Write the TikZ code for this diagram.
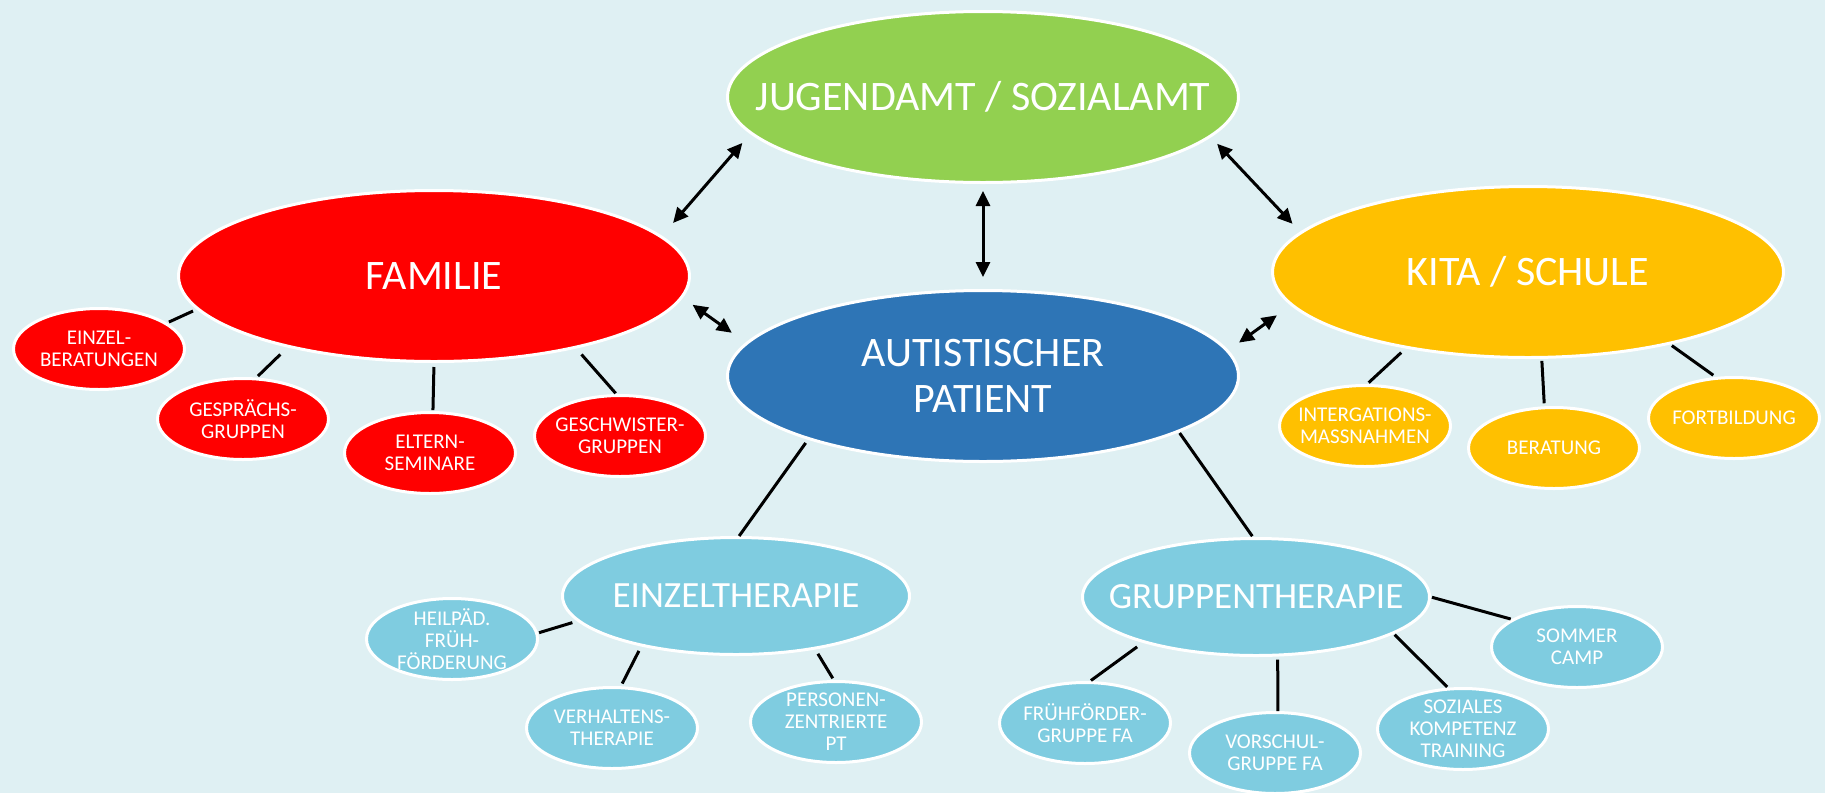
\documentclass[tikz,border=0pt]{standalone}
\usepackage{fontspec}
\setmainfont{Carlito}
\usetikzlibrary{shapes.geometric,arrows.meta}
\definecolor{bg}{HTML}{DFF0F3}
\definecolor{cgreen}{HTML}{92D050}
\definecolor{cred}{HTML}{FF0000}
\definecolor{corange}{HTML}{FFC000}
\definecolor{cblue}{HTML}{2E75B6}
\definecolor{clight}{HTML}{7FCCE0}
\begin{document}
\begin{tikzpicture}[x=1pt,y=-1pt,
  ell/.style={ellipse, draw=white, line width=3pt, inner sep=-120pt, text=white, align=center},
  bigE/.style={ell, minimum width=511pt, minimum height=171pt, font=\fontsize{42}{46}\selectfont},
  midE/.style={ell, fill=clight, minimum width=347pt, minimum height=117pt, font=\fontsize{37}{40}\selectfont},
  smallE/.style={ell, minimum width=171pt, minimum height=81pt, font=\fontsize{21}{22}\selectfont},
  link/.style={line width=3pt, draw=black},
  twoway/.style={line width=3pt, draw=black, {Triangle[length=15pt,width=14pt]}-{Triangle[length=15pt,width=14pt]}}
]
\fill[bg] (0,0) rectangle (1825,793);
\useasboundingbox (0,0) rectangle (1825,793);

% main nodes
\node[bigE, fill=cgreen]  (jug)  at (983,97)   {JUGENDAMT / SOZIALAMT};
\node[bigE, fill=cred]    (fam)  at (434,276)  {FAMILIE};
\node[bigE, fill=corange] (kita) at (1528,272) {KITA / SCHULE};
\node[bigE, fill=cblue]   (pat)  at (983,376)  {AUTISTISCHER\\PATIENT};
\node[midE] (einz) at (736,596)  {EINZELTHERAPIE};
\node[midE] (grup) at (1256,597) {GRUPPENTHERAPIE};

% family
\node[smallE, fill=cred] (r1) at (99,349)  {EINZEL-\\BERATUNGEN};
\node[smallE, fill=cred] (r2) at (243,419) {GESPRÄCHS-\\GRUPPEN};
\node[smallE, fill=cred] (r3) at (430,453) {ELTERN-\\SEMINARE};
\node[smallE, fill=cred] (r4) at (620,436) {GESCHWISTER-\\GRUPPEN};

% kita
\node[smallE, fill=corange] (o1) at (1365,426) {INTERGATIONS-\\MASSNAHMEN};
\node[smallE, fill=corange] (o2) at (1554,448) {BERATUNG};
\node[smallE, fill=corange] (o3) at (1734,418) {FORTBILDUNG};

% einzeltherapie
\node[smallE, fill=clight] (e1) at (452,639) {HEILPÄD.\\FRÜH-\\FÖRDERUNG};
\node[smallE, fill=clight] (e2) at (612,728) {VERHALTENS-\\THERAPIE};
\node[smallE, fill=clight] (e3) at (836,722) {PERSONEN-\\ZENTRIERTE\\PT};

% gruppentherapie
\node[smallE, fill=clight] (g1) at (1085,723) {FRÜHFÖRDER-\\GRUPPE FA};
\node[smallE, fill=clight] (g2) at (1275,753) {VORSCHUL-\\GRUPPE FA};
\node[smallE, fill=clight] (g3) at (1463,729) {SOZIALES\\KOMPETENZ\\TRAINING};
\node[smallE, fill=clight] (g4) at (1577,647) {SOMMER\\CAMP};

% plain links
\draw[link, shorten <=4pt, shorten >=2pt] (fam.188) -- (r1.21);
\draw[link, shorten <=10pt, shorten >=2pt] (fam.206) -- (r2.72);
\draw[link, shorten <=4pt, shorten >=1pt] (fam.270) -- (r3.86);
\draw[link, shorten <=8pt, shorten >=1pt] (fam.333) -- (r4.95);

\draw[link, shorten <=6pt, shorten >=2pt] (kita.212) -- (o1.87);
\draw[link, shorten <=2pt, shorten >=3pt] (kita.279) -- (o2.103);
\draw[link, shorten <=2pt, shorten >=3pt] (kita.333) -- (o3.114);

\draw[link, shorten <=4pt, shorten >=0pt] (pat.200) -- (einz.87);
\draw[link, shorten <=1pt, shorten >=1pt] (pat.344) -- (grup.93);

\draw[link, shorten <=5pt, shorten >=1pt] (einz.189) -- (e1.4);
\draw[link, shorten <=5pt, shorten >=3pt] (einz.208) -- (e2.78);
\draw[link, shorten <=5pt, shorten >=2pt] (einz.326) -- (e3.93);

\draw[link, shorten <=7pt, shorten >=1pt] (grup.202) -- (g1.83);
\draw[link, shorten <=3pt, shorten >=0pt] (grup.290) -- (g2.86);
\draw[link, shorten <=1pt, shorten >=1pt] (grup.345) -- (g3.110);
\draw[link, shorten <=1pt, shorten >=1pt] (grup.0) -- (g4.157);

% two-way arrows
\draw[twoway, shorten <=12pt, shorten >=17pt] (jug.189) -- (fam.10);
\draw[twoway, shorten <=7pt, shorten >=12pt] (jug.270) -- (pat.90);
\draw[twoway, shorten <=9pt, shorten >=11pt] (jug.350) -- (kita.170);
\draw[twoway, shorten <=12pt, shorten >=17pt] (fam.355) -- (pat.172);
\draw[twoway, shorten <=17pt, shorten >=13pt] (kita.188) -- (pat.6);
\end{tikzpicture}
\end{document}
